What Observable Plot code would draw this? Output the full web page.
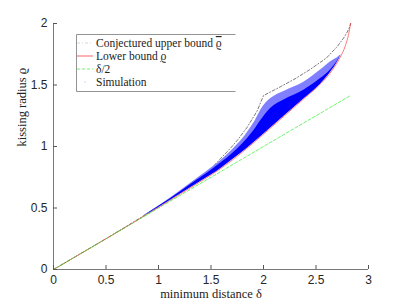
<!DOCTYPE html>
<html><head><meta charset="utf-8">
<script src="https://cdn.jsdelivr.net/npm/d3@7"></script>
<script src="https://cdn.jsdelivr.net/npm/@observablehq/plot@0.6"></script>
<style>
body{margin:0;background:#fff;}
#wrap{position:relative;width:407px;height:305px;}
#legend{position:absolute;left:76px;top:34px;}
</style>
</head><body>
<div id="wrap"><div id="chart"></div><div id="legend"></div></div>
<script>
// tick labels
const xTicks = [0, 0.5, 1, 1.5, 2, 2.5, 3];
const yTicks = [0, 0.5, 1, 1.5, 2];

// Conjectured upper bound
const upperDelta = [0, 0.5, 1.0, 1.3, 1.5, 1.69, 1.75, 1.845, 1.94, 2.0, 2.16, 2.3, 2.45, 2.6, 2.7, 2.77, 2.81, 2.83];
const upperRho   = [0, 0.25, 0.51, 0.675, 0.82, 0.99, 1.05, 1.157, 1.29, 1.414, 1.485, 1.55, 1.63, 1.72, 1.81, 1.89, 1.95, 2.0];

// Lower bound
const lowerDelta = [0, 0.5, 1.0, 1.2, 1.4, 1.6, 1.8, 2.0, 2.2, 2.4, 2.55, 2.65, 2.73, 2.78, 2.81, 2.83];
const lowerRho   = [0, 0.25, 0.505, 0.61, 0.715, 0.825, 0.955, 1.10, 1.25, 1.40, 1.515, 1.615, 1.725, 1.82, 1.91, 2.0];

// delta/2
const halfDelta = [0, 2.83];
const halfRho   = [0, 1.415];

// Simulation cloud (read envelope)
const cloudDelta     = [0.85, 1.0, 1.2, 1.4, 1.6, 1.7, 1.8, 1.9, 2.0, 2.07, 2.2, 2.38, 2.54, 2.64, 2.7, 2.74];
const cloudLow       = [0.43, 0.505, 0.61, 0.715, 0.825, 0.89, 0.955, 1.027, 1.10, 1.152, 1.25, 1.385, 1.505, 1.605, 1.68, 1.745];
const cloudDenseTop  = [0.43, 0.512, 0.627, 0.745, 0.87, 0.94, 1.02, 1.12, 1.24, 1.31, 1.38, 1.455, 1.55, 1.625, 1.69, 1.745];
const cloudFringeTop = [0.43, 0.515, 0.635, 0.76, 0.89, 0.97, 1.06, 1.18, 1.33, 1.39, 1.45, 1.52, 1.62, 1.69, 1.72, 1.745];

const legendLabels = [["Conjectured upper bound ", "ϱ", "overline"], ["Lower bound ", "ϱ", "underline"], ["", "δ/2", null], ["Simulation", "", null]];

const upper = upperDelta.map((d, i) => ({d, r: upperRho[i]}));
const lower = lowerDelta.map((d, i) => ({d, r: lowerRho[i]}));
const half = halfDelta.map((d, i) => ({d, r: halfRho[i]}));
const cloud = cloudDelta.map((d, i) => ({d, lo: cloudLow[i], dense: cloudDenseTop[i], fringe: cloudFringeTop[i]}));

const axisColor = "#555";
const chart = Plot.plot({
  width: 407, height: 305,
  marginLeft: 53, marginRight: 39, marginTop: 23, marginBottom: 36,
  x: {domain: [0, 3]},
  y: {domain: [0, 2]},
  style: {fontFamily: "'Liberation Sans', Arial, sans-serif", fontSize: "12px", color: "#262626", background: "#fff"},
  marks: [
    Plot.line(upper, {x: "d", y: "r", stroke: "#222", strokeWidth: 0.6, strokeDasharray: "3,2,1,2"}),
    Plot.line(lower, {x: "d", y: "r", stroke: "#ff2020", strokeWidth: 0.6, curve: "monotone-x"}),
    Plot.line(half, {x: "d", y: "r", stroke: "#33ee33", strokeWidth: 0.7, strokeDasharray: "3,2"}),
    Plot.areaY(cloud, {x: "d", y1: "lo", y2: "fringe", fill: "#7f7fff", curve: "monotone-x"}),
    Plot.areaY(cloud, {x: "d", y1: "lo", y2: "dense", fill: "#0000ff", curve: "monotone-x"}),
    Plot.ruleX([0], {stroke: axisColor, strokeWidth: 0.8}),
    Plot.ruleY([0], {stroke: axisColor, strokeWidth: 0.8}),
    Plot.axisX({ticks: xTicks, tickSize: -4, tickPadding: 10, stroke: axisColor, label: null, tickFormat: d => String(d)}),
    Plot.axisY({ticks: yTicks, tickSize: -4, tickPadding: 10, stroke: axisColor, label: null, tickFormat: d => String(d)}),
    Plot.text(["minimum distance δ"], {frameAnchor: "bottom", dy: 28.5, fontFamily: "'Liberation Serif', serif", fontSize: 12.5, fill: "#222"}),
    Plot.text(["kissing radius ϱ"], {frameAnchor: "left", dx: -32, rotate: -90, fontFamily: "'Liberation Serif', serif", fontSize: 12.5, fill: "#222"})
  ]
});
document.getElementById("chart").appendChild(chart);

// legend
const lg = d3.select("#legend").append("svg").attr("width", 162).attr("height", 60);
lg.append("path").attr("d", "M159.5,0.5H0.5V57.5H159.5").attr("fill", "#fff").attr("stroke", "#777").attr("stroke-width", 0.8);
const rowsY = [9, 22, 35, 48];
const samples = [
  {stroke: "#222", dash: "3,2,1,2", op: 0.25},
  {stroke: "#ff2020", dash: null, op: 1},
  {stroke: "#33ee33", dash: "3,2", op: 1},
  null
];
legendLabels.forEach(([a, b, deco], i) => {
  const s = samples[i];
  if (s) {
    lg.append("line").attr("x1", 1).attr("x2", 17).attr("y1", rowsY[i]).attr("y2", rowsY[i])
      .attr("stroke", s.stroke).attr("stroke-width", 0.7).attr("stroke-dasharray", s.dash).attr("opacity", s.op);
  } else {
    lg.append("circle").attr("cx", 9).attr("cy", rowsY[i]).attr("r", 0.6).attr("fill", "#0000ff").attr("opacity", 0.4);
  }
  const t = lg.append("text").attr("x", 20).attr("y", rowsY[i]).attr("dy", "0.35em")
    .attr("font-family", "'Liberation Serif', serif").attr("font-size", 11.5).attr("fill", "#222");
  t.append("tspan").text(a);
  if (b) {
    const sp = t.append("tspan").text(b);
    if (deco) sp.style("text-decoration", deco);
  }
});
</script>
</body></html>
